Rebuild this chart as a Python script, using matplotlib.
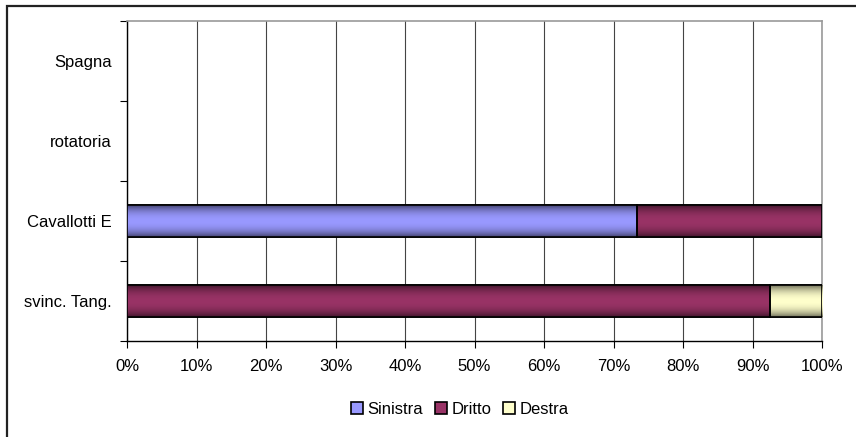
import matplotlib
matplotlib.use("Agg")
import matplotlib.pyplot as plt
import numpy as np
from matplotlib.patches import Rectangle
from matplotlib.ticker import FuncFormatter, FixedLocator

plt.rcParams['font.family'] = ['Liberation Sans', 'DejaVu Sans']

categories = ["Spagna", "rotatoria", "Cavallotti E", "svinc. Tang."]
sinistra = [0, 0, 73.4, 0]
dritto = [0, 0, 26.6, 92.5]
destra = [0, 0, 0, 7.5]
series_names = ["Sinistra", "Dritto", "Destra"]
colors = ["#9999FF", "#993366", "#FFFFCC"]
x_ticks = [0, 10, 20, 30, 40, 50, 60, 70, 80, 90, 100]

FS = 12

fig = plt.figure(figsize=(8.56, 4.37), dpi=100)
ax = fig.add_axes([127/856, 1-341/437, (822-127)/856, (341-21)/437])

y = np.arange(len(categories))
bh = 0.4
left = np.zeros(len(categories))
bars_all = []
for name, vals, col in zip(series_names, [sinistra, dritto, destra], colors):
    vals = np.array(vals, dtype=float)
    bars = ax.barh(y, vals, left=left, height=bh, color=col, edgecolor="black",
                   linewidth=1.2, label=name, zorder=3)
    left += vals
    bars_all.append((bars, col))

# gradient shading (Excel-like)
t = np.linspace(0, 1, 64)
shade = 1 - 0.55 * np.abs(2 * t - 1) ** 2.2
for bars, col in bars_all:
    rgb = np.array(matplotlib.colors.to_rgb(col))
    img = (shade[:, None] * rgb[None, :])[:, None, :]
    for r in bars:
        if r.get_width() <= 0:
            continue
        x0, y0 = r.get_x(), r.get_y()
        w, h = r.get_width(), r.get_height()
        im = ax.imshow(img, extent=[x0, x0 + w, y0 + h, y0], aspect='auto',
                       interpolation='bilinear', zorder=3.5)
        im.set_clip_path(r)
        edge = Rectangle((x0, y0), w, h, fill=False, edgecolor='black',
                         linewidth=1.2, zorder=4)
        ax.add_patch(edge)

ax.set_xlim(0, 100)
ax.set_ylim(len(categories) - 0.5, -0.5)
ax.set_xticks(x_ticks)
ax.xaxis.set_major_formatter(FuncFormatter(lambda v, p: f"{int(v)}%"))
ax.set_yticks(y)
ax.set_yticklabels(categories)
ax.yaxis.set_minor_locator(FixedLocator(np.arange(-0.5, len(categories), 1.0)))
ax.tick_params(axis='y', which='major', length=0, pad=11, labelsize=FS)
ax.tick_params(axis='y', which='minor', length=5, width=0.8, direction='out')
ax.tick_params(axis='x', which='major', length=5, width=0.8, direction='out',
               labelsize=FS, pad=8)
ax.grid(axis='x', color='#444444', linewidth=0.8, zorder=0)
ax.set_axisbelow(True)
for s in ['top', 'right']:
    ax.spines[s].set_color('#999999')
    ax.spines[s].set_linewidth(1.2)
for s in ['left', 'bottom']:
    ax.spines[s].set_color('black')
    ax.spines[s].set_linewidth(1.0)

handles = [Rectangle((0, 0), 1, 1, facecolor=c, edgecolor='black', linewidth=1.2)
           for c in colors]
fig.legend(handles, series_names, loc='center', bbox_to_anchor=(460/856, 1-409/437),
           ncol=3, frameon=False, fontsize=FS, handlelength=0.7, handleheight=0.7,
           handletextpad=0.3, columnspacing=0.7)

# outer chart border
fig.patches.append(Rectangle((7.5/856, -0.1), 1.1, 1 - 5.5/437 + 0.1,
                             transform=fig.transFigure, fill=False,
                             edgecolor='#222222', linewidth=1.6))

fig.savefig("out.png", dpi=100)
